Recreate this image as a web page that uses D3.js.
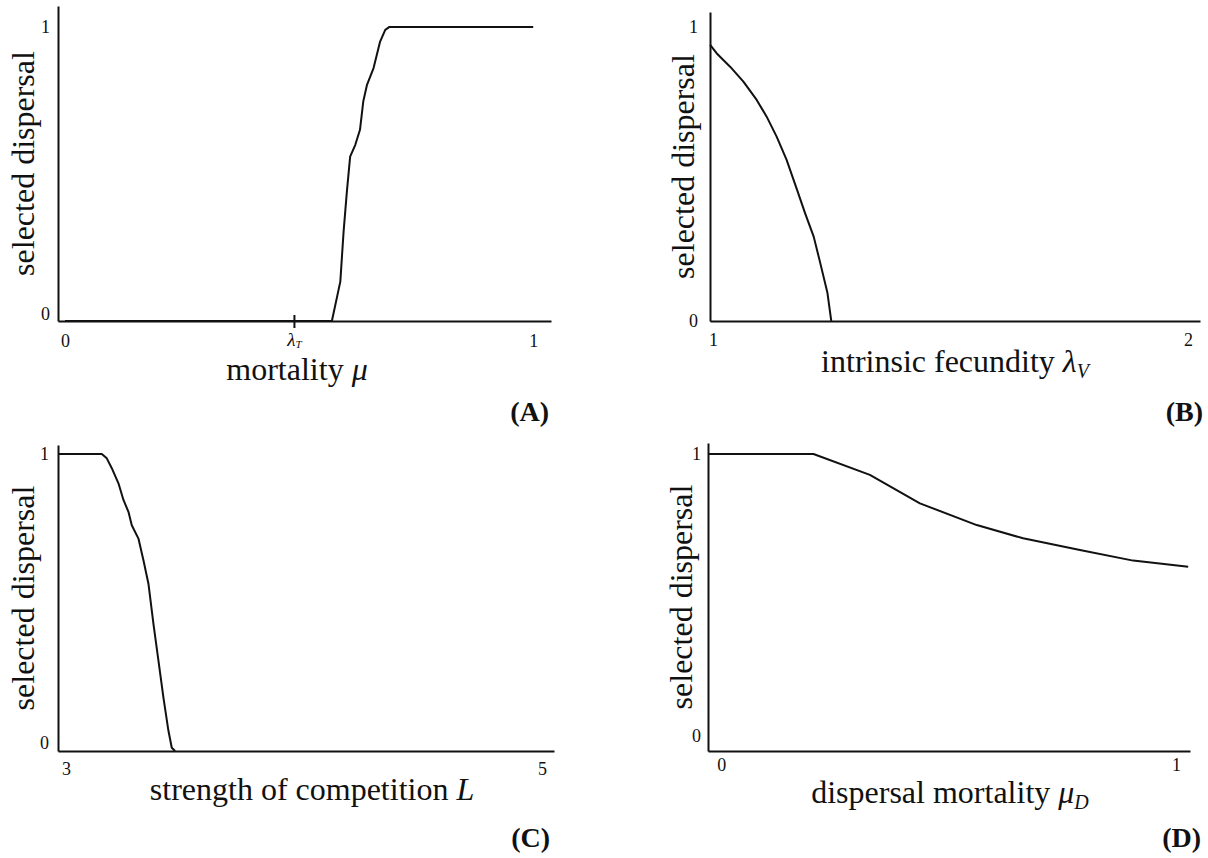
<!DOCTYPE html>
<html>
<head>
	<meta charset="utf-8">
	<title>Selected dispersal</title>
	<script type="text/javascript" src="https://d3js.org/d3.v7.min.js"></script>
	<style>
		body { margin: 0; background: #fff; }
		text { font-family: "Liberation Serif", "Times New Roman", serif; fill: #111; }
		.tick text { font-size: 18px; }
	</style>
</head>
<body>
	<script type="text/javascript">
		// values
		// (A) mortality
		var muA   = [0, 0.570, 0.588, 0.595, 0.602, 0.609, 0.620, 0.630, 0.637, 0.645, 0.659, 0.673, 0.684, 0.693, 1.0];
		var dispA = [0, 0,     0.134, 0.304, 0.440, 0.559, 0.599, 0.650, 0.746, 0.803, 0.860, 0.950, 0.990, 1.0,   1.0];
		var lambdaT = 0.49;

		// (B) intrinsic fecundity
		var lamB  = [0.994, 1.008, 1.036, 1.064, 1.092, 1.113, 1.134, 1.155, 1.177, 1.194, 1.212, 1.226, 1.241, 1.249];
		var dispB = [0.939, 0.910, 0.865, 0.814, 0.752, 0.695, 0.627, 0.548, 0.446, 0.366, 0.287, 0.196, 0.095, 0];

		// (C) strength of competition
		var compC = [2.966, 3.150, 3.171, 3.192, 3.220, 3.241, 3.262, 3.276, 3.304, 3.325, 3.346, 3.367, 3.388, 3.409, 3.430, 3.444, 3.458];
		var dispC = [1,     1,     0.985, 0.952, 0.901, 0.845, 0.805, 0.760, 0.715, 0.642, 0.563, 0.428, 0.304, 0.180, 0.068, 0.011, 0];

		// (D) dispersal mortality
		var muD   = [-0.029, 0.203, 0.327, 0.437, 0.562, 0.664, 0.789, 0.906, 1.027];
		var dispD = [1,      1,     0.926, 0.825, 0.748, 0.701, 0.660, 0.622, 0.600];

		var xTicksA = [0, 1], xTicksB = [1, 2], xTicksC = [3, 5], xTicksD = [0, 1];
		var yTicks = [0, 1];

		var W = 1208, H = 858;
		var svg = d3.select("body").append("svg").attr("width", W).attr("height", H);

		// layout of each panel (pixels) and the scale domains
		var panels = [
			{ id: "A", xs: muA, ys: dispA, xTicks: xTicksA,
			  left: 58, right: 551, top: 6, base: 321,
			  xDom: [-0.015, 1.038], yDom: [0, 1.071],
			  xPad: 13, yPad: 8, zeroLift: 7, yTitleOff: 24,
			  titleX: 297, titleY: 380, title: [["mortality ", ""], ["μ", "i"]],
			  letterX: 549, letterY: 421 },
			{ id: "B", xs: lamB, ys: dispB, xTicks: xTicksB,
			  left: 710, right: 1200, top: 12, base: 321,
			  xDom: [0.9937, 2.0253], yDom: [0, 1.051],
			  xPad: 12, yPad: 12, zeroLift: 0, yTitleOff: 16,
			  titleX: 955, titleY: 372, title: [["intrinsic fecundity ", ""], ["λ", "i"], ["V", "s"]],
			  letterX: 1203, letterY: 421 },
			{ id: "C", xs: compC, ys: dispC, xTicks: xTicksC,
			  left: 58, right: 554, top: 445, base: 751,
			  xDom: [2.966, 5.05], yDom: [0, 1.030],
			  xPad: 11, yPad: 9, zeroLift: 8, yTitleOff: 24,
			  titleX: 312, titleY: 800, title: [["strength of competition ", ""], ["L", "i"]],
			  letterX: 550, letterY: 847 },
			{ id: "D", xs: muD, ys: dispD, xTicks: xTicksD,
			  left: 708, right: 1190, top: 443, base: 751,
			  xDom: [-0.029, 1.031], yDom: [-0.053, 1.039],
			  xPad: 7, yPad: 7, zeroLift: 0, yTitleOff: 16,
			  titleX: 950, titleY: 803, title: [["dispersal mortality ", ""], ["μ", "i"], ["D", "s"]],
			  letterX: 1201, letterY: 847 }
		];

		panels.forEach(function (p) {
			var x = d3.scaleLinear().domain(p.xDom).range([p.left, p.right]);
			var y = d3.scaleLinear().domain(p.yDom).range([p.base, p.top]);
			var g = svg.append("g").attr("class", "panel-" + p.id);

			// axes
			var xAxis = g.append("g")
				.attr("transform", "translate(0," + p.base + ")")
				.call(d3.axisBottom(x).tickValues(p.xTicks).tickFormat(d3.format("d"))
					.tickSize(0).tickSizeOuter(0).tickPadding(p.xPad));
			var yAxis = g.append("g")
				.attr("transform", "translate(" + p.left + ",0)")
				.call(d3.axisLeft(y).tickValues(yTicks).tickFormat(d3.format("d"))
					.tickSize(0).tickSizeOuter(0).tickPadding(p.yPad));

			[xAxis, yAxis].forEach(function (a) {
				a.attr("font-size", null).attr("font-family", null);
				a.select(".domain").attr("stroke", "#111").attr("stroke-width", 2);
				a.selectAll("text").attr("fill", "#111");
			});
			yAxis.selectAll(".tick text").filter(function (d) { return d === 0; })
				.attr("y", -p.zeroLift);

			// curve
			var pts = p.xs.map(function (v, i) { return [v, p.ys[i]]; });
			var line = d3.line().x(function (d) { return x(d[0]); }).y(function (d) { return y(d[1]); });
			g.append("path").datum(pts)
				.attr("d", line)
				.attr("fill", "none")
				.attr("stroke", "#111")
				.attr("stroke-width", 2)
				.attr("stroke-linejoin", "round");

			// threshold mark on panel A
			if (p.id === "A") {
				g.append("line")
					.attr("x1", x(lambdaT)).attr("x2", x(lambdaT))
					.attr("y1", p.base - 6).attr("y2", p.base + 7)
					.attr("stroke", "#111").attr("stroke-width", 2);
				var lt = g.append("text")
					.attr("x", x(lambdaT)).attr("y", p.base + 25)
					.attr("text-anchor", "middle")
					.style("font-size", "19px").style("font-style", "italic");
				lt.append("tspan").text("λ");
				lt.append("tspan").attr("dy", 2).style("font-size", "11px").text("T");
			}

			// x title
			var t = g.append("text")
				.attr("x", p.titleX).attr("y", p.titleY)
				.attr("text-anchor", "middle")
				.style("font-size", "32px");
			p.title.forEach(function (part) {
				var s = t.append("tspan").text(part[0]);
				if (part[1] === "i") s.style("font-style", "italic");
				if (part[1] === "s") s.style("font-style", "italic").style("font-size", "20px").attr("dy", 6);
			});

			// y title
			g.append("text")
				.attr("transform", "translate(" + (p.left - p.yTitleOff) + "," + ((p.top + p.base) / 2) + ") rotate(-90)")
				.attr("text-anchor", "middle")
				.style("font-size", "32px")
				.text("selected dispersal");

			// panel letter
			g.append("text")
				.attr("x", p.letterX).attr("y", p.letterY)
				.attr("text-anchor", "end")
				.style("font-size", "28px").style("font-weight", "bold")
				.text("(" + p.id + ")");
		});
	</script>
</body>
</html>
